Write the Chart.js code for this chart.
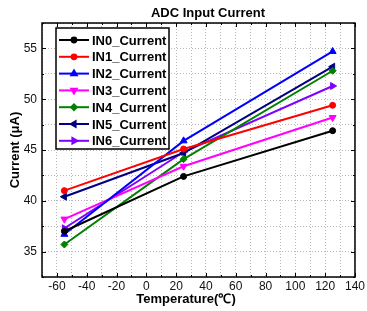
<!DOCTYPE html>
<html>
<head>
<meta charset="utf-8">
<script src="https://cdn.jsdelivr.net/npm/chart.js@4.4.1/dist/chart.umd.min.js"></script>
<style>
  html, body { margin: 0; padding: 0; background: #fff; }
  #wrap { width: 367px; height: 311px; }
</style>
</head>
<body>
<div id="wrap"><canvas id="chart"></canvas></div>
<script>
// temperatures (°C) where current was measured
const temps = [-55, 25, 125];

// input current per channel (µA)
const in0 = [37.0, 42.4, 46.9];
const in1 = [41.0, 45.1, 49.4];
const in2 = [36.7, 45.9, 54.7];
const in3 = [38.2, 43.4, 48.2];
const in4 = [35.7, 44.1, 52.8];
const in5 = [40.4, 44.7, 53.2];
const in6 = [37.3, 44.8, 51.3];

const seriesNames = ['IN0_Current', 'IN1_Current', 'IN2_Current', 'IN3_Current',
                     'IN4_Current', 'IN5_Current', 'IN6_Current'];

const FONT = '"Liberation Sans", Arial, sans-serif';

function mkSet(label, values, color, style, rot, radius) {
    return {
        label: label,
        data: values.map((v, i) => ({ x: temps[i], y: v })),
        borderColor: color,
        backgroundColor: color,
        borderWidth: 2,
        pointStyle: style,
        pointRotation: rot,
        pointRadius: radius,
        pointBorderWidth: 1,
        tension: 0
    };
}

const datasets = [
    mkSet(seriesNames[0], in0, '#000000', 'circle', 0, 3),
    mkSet(seriesNames[1], in1, '#ff0000', 'circle', 0, 3),
    mkSet(seriesNames[2], in2, '#0000ff', 'triangle', 0, 4),
    mkSet(seriesNames[3], in3, '#ff00ff', 'triangle', 180, 4),
    mkSet(seriesNames[4], in4, '#008000', 'rectRot', 0, 3.5),
    mkSet(seriesNames[5], in5, '#000080', 'triangle', 270, 4),
    mkSet(seriesNames[6], in6, '#8000ff', 'triangle', 90, 4)
];

// frame, inward ticks, titles and the boxed legend inside the plot
const decorPlugin = {
    id: 'decor',
    afterDatasetsDraw(chart) {
        const { ctx, chartArea: a, scales } = chart;
        ctx.save();

        // tick marks pointing inward
        ctx.strokeStyle = '#000';
        ctx.lineWidth = 1;
        ctx.beginPath();
        scales.x.ticks.forEach(t => {
            const px = Math.round(scales.x.getPixelForValue(t.value)) + 0.5;
            const len = (t.value % 20 === 0) ? 4 : 2;
            ctx.moveTo(px, a.bottom); ctx.lineTo(px, a.bottom - len);
            ctx.moveTo(px, a.top); ctx.lineTo(px, a.top + len);
        });
        scales.y.ticks.forEach(t => {
            const py = Math.round(scales.y.getPixelForValue(t.value)) + 0.5;
            const len = (t.value % 5 === 0) ? 4 : 2;
            ctx.moveTo(a.left, py); ctx.lineTo(a.left + len, py);
            ctx.moveTo(a.right, py); ctx.lineTo(a.right - len, py);
        });
        ctx.stroke();

        // frame
        ctx.lineWidth = 1.5;
        ctx.strokeRect(a.left, a.top, a.right - a.left, a.bottom - a.top);

        // legend
        const lx = 56, ly = 28, lw = 113, lh = 121;
        ctx.fillStyle = '#fff';
        ctx.fillRect(lx, ly, lw, lh);
        ctx.lineWidth = 1.5;
        ctx.strokeStyle = '#000';
        ctx.strokeRect(lx, ly, lw, lh);
        ctx.font = 'bold 13px ' + FONT;
        ctx.textBaseline = 'middle';
        ctx.textAlign = 'left';
        chart.data.datasets.forEach((ds, i) => {
            const y = 40 + i * 16.8;
            ctx.strokeStyle = ds.borderColor;
            ctx.lineWidth = 2;
            ctx.beginPath();
            ctx.moveTo(59, y); ctx.lineTo(89, y);
            ctx.stroke();
            ctx.fillStyle = ds.borderColor;
            Chart.helpers.drawPoint(ctx, {
                pointStyle: ds.pointStyle,
                rotation: ds.pointRotation,
                radius: ds.pointRadius * 0.8,
                borderWidth: 1
            }, 74, y);
            ctx.fillStyle = '#000';
            ctx.fillText(ds.label, 92, y + 1);
        });

        // titles
        ctx.fillStyle = '#000';
        ctx.textAlign = 'center';
        ctx.font = 'bold 13px ' + FONT;
        ctx.fillText('ADC Input Current', 208, 13);
        ctx.fillText('Temperature(\u2103)', 186, 299);
        ctx.translate(15, 150);
        ctx.rotate(-Math.PI / 2);
        ctx.fillText('Current (\u03bcA)', 0, 0);
        ctx.restore();
    }
};

new Chart(document.getElementById('chart'), {
    type: 'line',
    data: { datasets: datasets },
    options: {
        responsive: true,
        maintainAspectRatio: false,
        animation: false,
        layout: { padding: { top: 23, right: 8, left: 0, bottom: 0 } },
        plugins: {
            legend: { display: false },
            title: { display: false },
            tooltip: { enabled: false }
        },
        scales: {
            x: {
                type: 'linear',
                min: -70,
                max: 140,
                afterFit: s => { s.height = 34; },
                ticks: {
                    stepSize: 10,
                    autoSkip: false,
                    maxRotation: 0,
                    padding: 2,
                    color: '#111',
                    font: { family: FONT, size: 12 },
                    callback: v => (v % 20 === 0 ? v : '')
                },
                grid: { color: '#b8b8b8', drawTicks: false, lineWidth: 1 },
                border: { display: false, dash: [1, 2] }
            },
            y: {
                min: 32.5,
                max: 57.5,
                afterFit: s => { s.width = 42; },
                ticks: {
                    stepSize: 2.5,
                    autoSkip: false,
                    padding: 5,
                    color: '#111',
                    font: { family: FONT, size: 12 },
                    callback: v => (v % 5 === 0 ? v : '')
                },
                grid: { color: '#b8b8b8', drawTicks: false, lineWidth: 1 },
                border: { display: false, dash: [1, 2] }
            }
        }
    },
    plugins: [decorPlugin]
});
</script>
</body>
</html>
